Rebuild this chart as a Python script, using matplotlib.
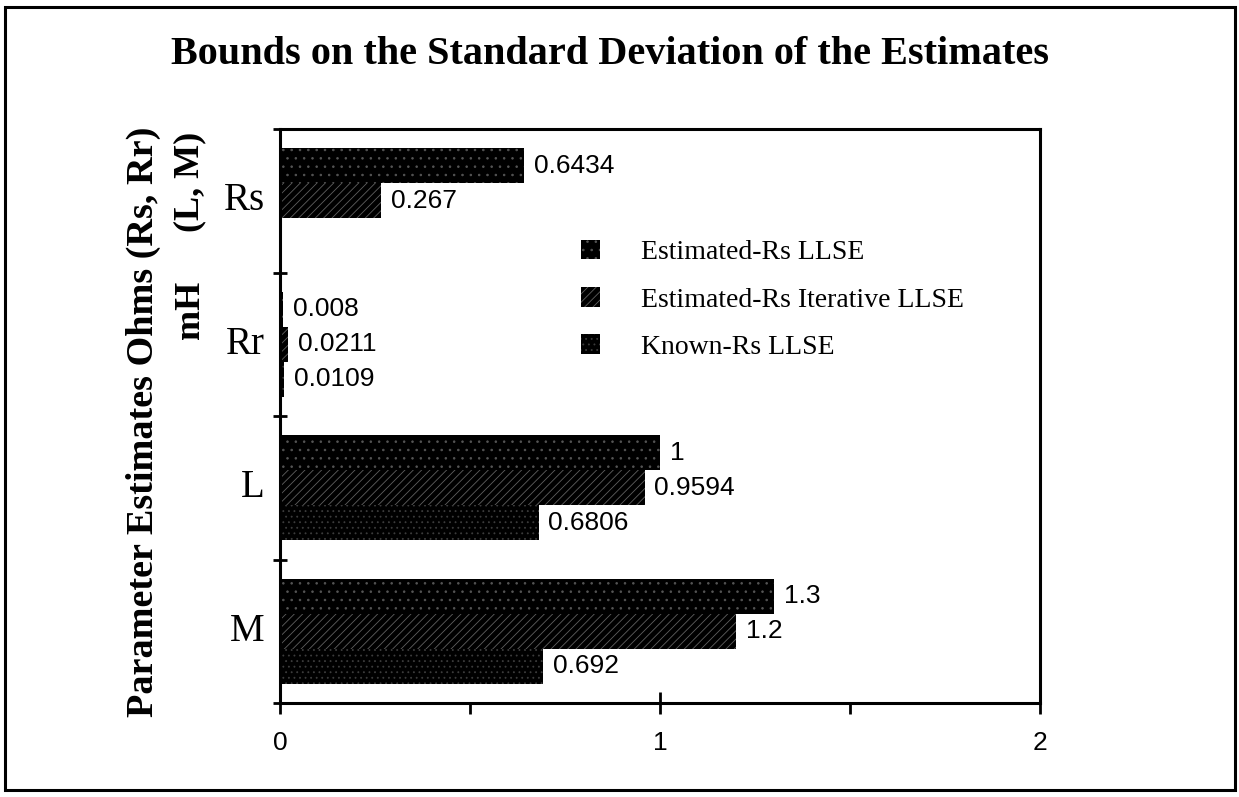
import matplotlib
matplotlib.use('Agg')
import matplotlib.pyplot as plt
from matplotlib.patches import Rectangle
import numpy as np

# standard deviation bounds per parameter (top to bottom: Rs, Rr, L, M)
params = ['Rs', 'Rr', 'L', 'M']
series_names = ['Estimated-Rs LLSE', 'Estimated-Rs Iterative LLSE', 'Known-Rs LLSE']
est_llse = [0.6434, 0.008, 1.0, 1.3]
est_iter_llse = [0.267, 0.0211, 0.9594, 1.2]
known_llse = [None, 0.0109, 0.6806, 0.692]   # Rs is known, so no bar
value_labels = [
    ['0.6434', '0.008', '1', '1.3'],
    ['0.267', '0.0211', '0.9594', '1.2'],
    [None, '0.0109', '0.6806', '0.692'],
]

plt.rcParams['hatch.linewidth'] = 0.6
SERIF = ['Liberation Serif', 'DejaVu Serif']
SANS = ['Liberation Sans', 'DejaVu Sans']

W, H = 1239, 797
fig = plt.figure(figsize=(W / 100, H / 100), dpi=100)
ax = fig.add_axes([280 / W, 1 - 703 / H, 760 / W, 574 / H])

# outer border round the whole figure
fig.patches.append(Rectangle((5 / W, 1 - 790 / H), 1230 / W, 783 / H,
                             transform=fig.transFigure, fill=False,
                             linewidth=2.2, edgecolor='black'))

n = len(params)
centers = np.arange(n)[::-1] + 0.5      # Rs at top
h = 0.245
offsets = [h, 0.0, -h]
hatches = ['..', '////', '...']
hatch_cols = ['#555555', '#606060', '#3c3c3c']
all_series = [est_llse, est_iter_llse, known_llse]

for s, vals in enumerate(all_series):
    for i, v in enumerate(vals):
        if v is None:
            continue
        y = centers[i] + offsets[s]
        ax.barh(y, v, height=h, color='black', edgecolor=hatch_cols[s],
                hatch=hatches[s], linewidth=0)
        ax.annotate(value_labels[s][i], (v, y), xytext=(7, 0),
                    textcoords='offset points', va='center', ha='left',
                    fontsize=19, family=SANS)

# legend entries
handles = [Rectangle((0, 0), 1, 1, facecolor='black', edgecolor=hatch_cols[s],
                     hatch=hatches[s], linewidth=0) for s in range(3)]
fig.legend(handles, series_names, loc='upper left',
           bbox_to_anchor=(556 / W, 1 - 215 / H), frameon=False,
           prop={'family': SERIF, 'size': 20},
           handlelength=0.7, handleheight=0.7, handletextpad=1.45,
           labelspacing=0.78)

ax.set_xlim(0, 2)
ax.set_ylim(0, n)
ax.set_xticks([0, 1, 2])
ax.set_xticks([0.5, 1.5], minor=True)
ax.set_xticklabels(['0', '1', '2'], family=SANS, fontsize=19)
ax.set_yticks(np.arange(n + 1))
ax.set_yticklabels([])
ax.tick_params(axis='x', which='major', direction='inout', length=16, width=2, pad=12)
ax.tick_params(axis='x', which='minor', direction='out', length=8, width=2)
ax.tick_params(axis='y', which='major', direction='inout', length=10, width=2)
for sp in ax.spines.values():
    sp.set_linewidth(2.2)

# category names left of the axis
for i, p in enumerate(params):
    ax.text(-0.04, centers[i], p, transform=ax.transData, ha='right',
            va='center', family=SERIF, fontsize=28)

fig.text(610 / W, 1 - 55 / H, 'Bounds on the Standard Deviation of the Estimates',
         ha='center', va='center', family=SERIF, fontsize=29, fontweight='bold')

fig.text(143 / W, 1 - 422 / H, 'Parameter Estimates Ohms (Rs, Rr)', rotation=90,
         ha='center', va='center', family=SERIF, fontsize=27.5, fontweight='bold')
fig.text(190 / W, 1 - 310 / H, 'mH', rotation=90,
         ha='center', va='center', family=SERIF, fontsize=26, fontweight='bold')
fig.text(190 / W, 1 - 182 / H, '(L, M)', rotation=90,
         ha='center', va='center', family=SERIF, fontsize=26, fontweight='bold')

fig.savefig('out.png', dpi=100, facecolor='white')
